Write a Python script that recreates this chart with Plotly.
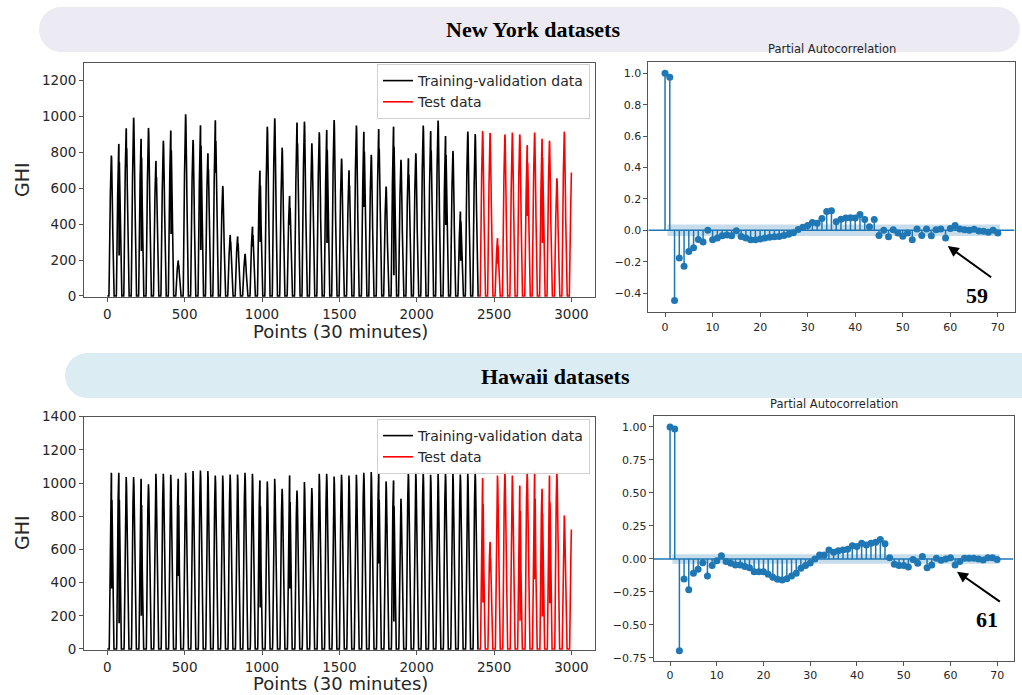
import numpy as np
import plotly.graph_objects as go

# ---------------------------------------------------------------- data ----
POINTS_PER_DAY = 48          # 30-minute sampling
SPLIT = 2400                 # training-validation / test boundary
N_END = 3000                 # last sample index

# Daily GHI maxima, one value per 48-point day
ny_train_peaks = [782, 847, 934, 993, 875, 936, 752, 865, 921, 197,
                  1012, 869, 951, 795, 979, 613, 340, 331, 234, 386,
                  698, 943, 990, 826, 557, 966, 971, 850, 912, 925,
                  980, 765, 700, 949, 914, 786, 930, 609, 943, 758,
                  767, 795, 949, 919, 977, 891, 808, 470, 916, 902]
ny_test_peaks = [919, 908, 321, 900, 910, 900, 840, 910, 875, 865, 655, 915, 710]
# cloudy-day drops (day index, GHI reached inside the day)
ny_dip_days = [1, 2, 4, 6, 8, 9, 12, 13, 14, 16, 17, 19, 20, 24, 25,
               27, 29, 32, 34, 36, 38, 40, 43, 45, 47, 52, 56, 58]
ny_dip_vals = [230, 720, 250, 640, 350, 150, 260, 700, 690, 300, 250, 280, 300, 400, 760,
               800, 300, 600, 500, 750, 120, 600, 700, 400, 200, 180, 450, 300]

hi_train_peaks = [1062, 1062, 1036, 1036, 1026, 992, 1056, 1056, 1050, 1026,
                  1062, 1072, 1076, 1072, 1046, 1046, 1052, 1052, 1062, 1056,
                  1016, 1010, 1026, 966, 1046, 955, 1006, 970, 1056, 1056,
                  1040, 1050, 1046, 1050, 1062, 1066, 1062, 1010, 1016, 906,
                  1062, 1066, 1066, 1050, 1056, 1062, 1062, 1052, 1062, 1070]
hi_test_peaks = [1030, 645, 1046, 1070, 1045, 985, 1065, 1070, 965, 1045, 1065, 805, 750]
hi_dip_days = [0, 1, 4, 9, 20, 24, 36, 38, 50, 51, 55, 57, 58, 59]
hi_dip_vals = [370, 160, 200, 440, 250, 370, 520, 170, 280, 470, 170, 420, 200, 280]

# Partial autocorrelation, lags 0..70
lags = list(range(71))
ny_pacf = [1.0, 0.975, -0.447, -0.176, -0.229, -0.136, -0.112, -0.059, -0.074, 0.0,
           -0.06, -0.05, -0.035, -0.03, -0.035, -0.003, -0.04, -0.05, -0.06, -0.06,
           -0.055, -0.05, -0.045, -0.042, -0.04, -0.033, -0.025, -0.015, 0.005, 0.02,
           0.03, 0.05, 0.045, 0.075, 0.12, 0.125, 0.055, 0.07, 0.078, 0.08,
           0.078, 0.10, 0.068, 0.022, 0.068, -0.033, 0.0, -0.042, 0.004, -0.018,
           -0.038, -0.018, -0.06, 0.008, -0.033, 0.008, -0.035, 0.004, 0.008, -0.05,
           0.012, 0.03, 0.008, 0.004, 0.0, 0.006, -0.005, -0.007, -0.013, 0.0, -0.017]
hi_pacf = [1.0, 0.985, -0.696, -0.152, -0.233, -0.109, -0.078, -0.028, -0.129, -0.05,
           -0.013, 0.025, -0.02, -0.033, -0.046, -0.046, -0.058, -0.066, -0.096, -0.096,
           -0.096, -0.116, -0.139, -0.154, -0.16, -0.149, -0.129, -0.109, -0.071, -0.05,
           -0.03, 0.0, 0.03, 0.03, 0.068, 0.05, 0.063, 0.068, 0.073, 0.101,
           0.094, 0.119, 0.106, 0.119, 0.127, 0.147, 0.116, 0.01, -0.04, -0.05,
           -0.05, -0.06, -0.005, -0.033, 0.018, -0.066, -0.046, 0.005, -0.01, 0.0,
           0.01, -0.046, -0.02, 0.005, 0.005, 0.005, 0.0, -0.008, 0.01, 0.01, -0.005]
ny_conf = 0.036
hi_conf = 0.036

ny_marked_lag = 59
hi_marked_lag = 61


# ------------------------------------------------------------ helpers ----
def daily_series(peaks, dip_days, dip_vals, rise, sett):
    """Half-hourly GHI: each day's clear-sky bell scaled to that day's peak."""
    n = N_END + 1
    y = np.zeros(n)
    for i in range(n):
        d, k = divmod(i, POINTS_PER_DAY)
        t = (k - rise) / (sett - rise)
        if 0 < t < 1:
            y[i] = peaks[d] * np.sin(np.pi * t) ** 1.6
    for d, v in zip(dip_days, dip_vals):
        for k in (28, 29):
            i = d * POINTS_PER_DAY + k
            if i < n:
                y[i] = min(y[i], v)
    return y


ny_ghi = daily_series(ny_train_peaks + ny_test_peaks, ny_dip_days, ny_dip_vals, 10, 42)
hi_ghi = daily_series(hi_train_peaks + hi_test_peaks, hi_dip_days, hi_dip_vals, 12, 40)
pts = np.arange(N_END + 1)

W, H = 1022, 695
PX = lambda x: x / W
PY = lambda y: 1 - y / H

C0 = "#1f77b4"
TXT = "#262626"
SPINE = "#555555"

fig = go.Figure()

# ------------------------------------------------------ GHI time series ----
for ghi, xa, ya, lg in ((ny_ghi, "x", "y", "legend"), (hi_ghi, "x2", "y2", "legend2")):
    fig.add_trace(go.Scatter(x=pts[:SPLIT + 1], y=ghi[:SPLIT + 1], mode="lines",
                             line=dict(color="black", width=1.6),
                             name="Training-validation data", xaxis=xa, yaxis=ya, legend=lg))
    fig.add_trace(go.Scatter(x=pts[SPLIT:], y=ghi[SPLIT:], mode="lines",
                             line=dict(color="#ff0000", width=1.6),
                             name="Test data", xaxis=xa, yaxis=ya, legend=lg))

# ---------------------------------------------------------------- PACF ----
for pacf, conf, xa, ya in ((ny_pacf, ny_conf, "x3", "y3"), (hi_pacf, hi_conf, "x4", "y4")):
    # confidence band
    fig.add_trace(go.Scatter(x=[0.5, 70.5, 70.5, 0.5], y=[-conf, -conf, conf, conf],
                             fill="toself", fillcolor="rgba(31,119,180,0.25)",
                             line=dict(width=0), mode="lines", hoverinfo="skip",
                             showlegend=False, xaxis=xa, yaxis=ya))
    # zero line across the axes
    fig.add_trace(go.Scatter(x=[-3.5, 73.5], y=[0, 0], mode="lines",
                             line=dict(color=C0, width=1.5), showlegend=False,
                             xaxis=xa, yaxis=ya))
    sx, sy = [], []
    for k, v in zip(lags, pacf):
        sx += [k, k, None]
        sy += [0, v, None]
    fig.add_trace(go.Scatter(x=sx, y=sy, mode="lines", line=dict(color=C0, width=1.5),
                             showlegend=False, xaxis=xa, yaxis=ya))
    fig.add_trace(go.Scatter(x=lags, y=pacf, mode="markers",
                             marker=dict(color=C0, size=7), showlegend=False,
                             xaxis=xa, yaxis=ya))

# ---------------------------------------------------------------- axes ----
axis_common = dict(showline=True, mirror=True, linecolor=SPINE, linewidth=1,
                   ticks="outside", ticklen=4, tickwidth=1, tickcolor=SPINE,
                   showgrid=False, zeroline=False, automargin=False)
left_tick = dict(size=13.5, color=TXT)
pacf_tick = dict(size=11, color=TXT)

left_dom = [PX(84.1), PX(594.6)]
fig.update_layout(
    xaxis=dict(domain=left_dom, range=[-150, 3150], tickvals=list(range(0, 3001, 500)),
               anchor="y", tickfont=left_tick, **axis_common),
    yaxis=dict(domain=[PY(297.4), PY(62.6)], range=[-8, 1300],
               tickvals=list(range(0, 1201, 200)), anchor="x", tickfont=left_tick, **axis_common),
    xaxis2=dict(domain=left_dom, range=[-150, 3150], tickvals=list(range(0, 3001, 500)),
                anchor="y2", tickfont=left_tick, **axis_common),
    yaxis2=dict(domain=[PY(650.3), PY(416.7)], range=[-8, 1400],
                tickvals=list(range(0, 1401, 200)), anchor="x2", tickfont=left_tick, **axis_common),
    xaxis3=dict(domain=[PX(648.4), PX(1014.5)], range=[-3.5, 73.5],
                tickvals=list(range(0, 71, 10)), anchor="y3", tickfont=pacf_tick, **axis_common),
    yaxis3=dict(domain=[PY(312.3), PY(61.9)], range=[-0.5225, 1.0725],
                tickvals=[-0.4, -0.2, 0.0, 0.2, 0.4, 0.6, 0.8, 1.0], tickformat=".1f",
                anchor="x3", tickfont=pacf_tick, **axis_common),
    xaxis4=dict(domain=[PX(653.7), PX(1013.5)], range=[-3.5, 73.5],
                tickvals=list(range(0, 71, 10)), anchor="y4", tickfont=pacf_tick, **axis_common),
    yaxis4=dict(domain=[PY(661.2), PY(415.8)], range=[-0.7745, 1.0845],
                tickvals=[-0.75, -0.5, -0.25, 0.0, 0.25, 0.5, 0.75, 1.0], tickformat=".2f",
                anchor="x4", tickfont=pacf_tick, **axis_common),
)

legend_style = dict(xanchor="left", yanchor="top", bgcolor="rgba(255,255,255,0.85)",
                    bordercolor="#d0d0d0", borderwidth=1,
                    font=dict(size=14, color=TXT, family="DejaVu Sans"),
                    tracegroupgap=0, itemwidth=30)
fig.update_layout(
    legend=dict(x=PX(377), y=PY(64), **legend_style),
    legend2=dict(x=PX(377), y=PY(419), **legend_style),
)


# ------------------------------------------------------- header bands ----
def pill(x0, y0, x1, y1, r):
    k = 0.5523 * r
    p = lambda x, y: f"{PX(x):.5f},{PY(y):.5f}"
    return (f"M {p(x0 + r, y0)} L {p(x1 - r, y0)} "
            f"C {p(x1 - r + k, y0)} {p(x1, y0 + r - k)} {p(x1, y0 + r)} "
            f"L {p(x1, y1 - r)} "
            f"C {p(x1, y1 - r + k)} {p(x1 - r + k, y1)} {p(x1 - r, y1)} "
            f"L {p(x0 + r, y1)} "
            f"C {p(x0 + r - k, y1)} {p(x0, y1 - r + k)} {p(x0, y1 - r)} "
            f"L {p(x0, y0 + r)} "
            f"C {p(x0, y0 + r - k)} {p(x0 + r - k, y0)} {p(x0 + r, y0)} Z")


fig.update_layout(shapes=[
    dict(type="path", xref="paper", yref="paper", layer="below",
         path=pill(39, 7, 1020, 52, 22.5), fillcolor="#ECEAF2", line=dict(width=0)),
    dict(type="path", xref="paper", yref="paper", layer="below",
         path=pill(65, 353, 1060, 398, 22.5), fillcolor="#DBEDF3", line=dict(width=0)),
])

serif_bold = dict(family="Liberation Serif", size=22, color="black")
ann = [
    dict(text="<b>New York datasets</b>", x=PX(533), y=PY(30), font=serif_bold),
    dict(text="<b>Hawaii datasets</b>", x=PX(555), y=PY(376), font=serif_bold),
    dict(text="Partial Autocorrelation", x=PX(832), y=PY(49),
         font=dict(size=11.5, color=TXT)),
    dict(text="Partial Autocorrelation", x=PX(834), y=PY(404),
         font=dict(size=11.5, color=TXT)),
    dict(text="GHI", x=PX(22), y=PY(180), textangle=-90, font=dict(size=19, color=TXT)),
    dict(text="GHI", x=PX(22), y=PY(533), textangle=-90, font=dict(size=19, color=TXT)),
    dict(text="Points (30 minutes)", x=PX(340), y=PY(331), font=dict(size=18, color=TXT)),
    dict(text="Points (30 minutes)", x=PX(340), y=PY(683), font=dict(size=18, color=TXT)),
    dict(text=f"<b>{ny_marked_lag}</b>", x=PX(977), y=PY(295), font=serif_bold),
    dict(text=f"<b>{hi_marked_lag}</b>", x=PX(987), y=PY(619), font=serif_bold),
]
annotations = [dict(xref="paper", yref="paper", showarrow=False,
                    xanchor="center", yanchor="middle", **a) for a in ann]

# arrows pointing at the marked lags
annotations += [
    dict(x=ny_marked_lag + 0.45, y=-0.1, ax=68.9, ay=-0.306, xref="x3", yref="y3",
         axref="x3", ayref="y3", text="", showarrow=True, arrowhead=2, arrowsize=1.1,
         arrowwidth=2, arrowcolor="black"),
    dict(x=hi_marked_lag + 0.4, y=-0.096, ax=70.9, ay=-0.331, xref="x4", yref="y4",
         axref="x4", ayref="y4", text="", showarrow=True, arrowhead=2, arrowsize=1.1,
         arrowwidth=2, arrowcolor="black"),
]

fig.update_layout(
    annotations=annotations,
    width=W, height=H, margin=dict(l=0, r=0, t=0, b=0, autoexpand=False),
    paper_bgcolor="white", plot_bgcolor="white",
    font=dict(family="DejaVu Sans", color=TXT),
)

fig.write_html("out.html")
